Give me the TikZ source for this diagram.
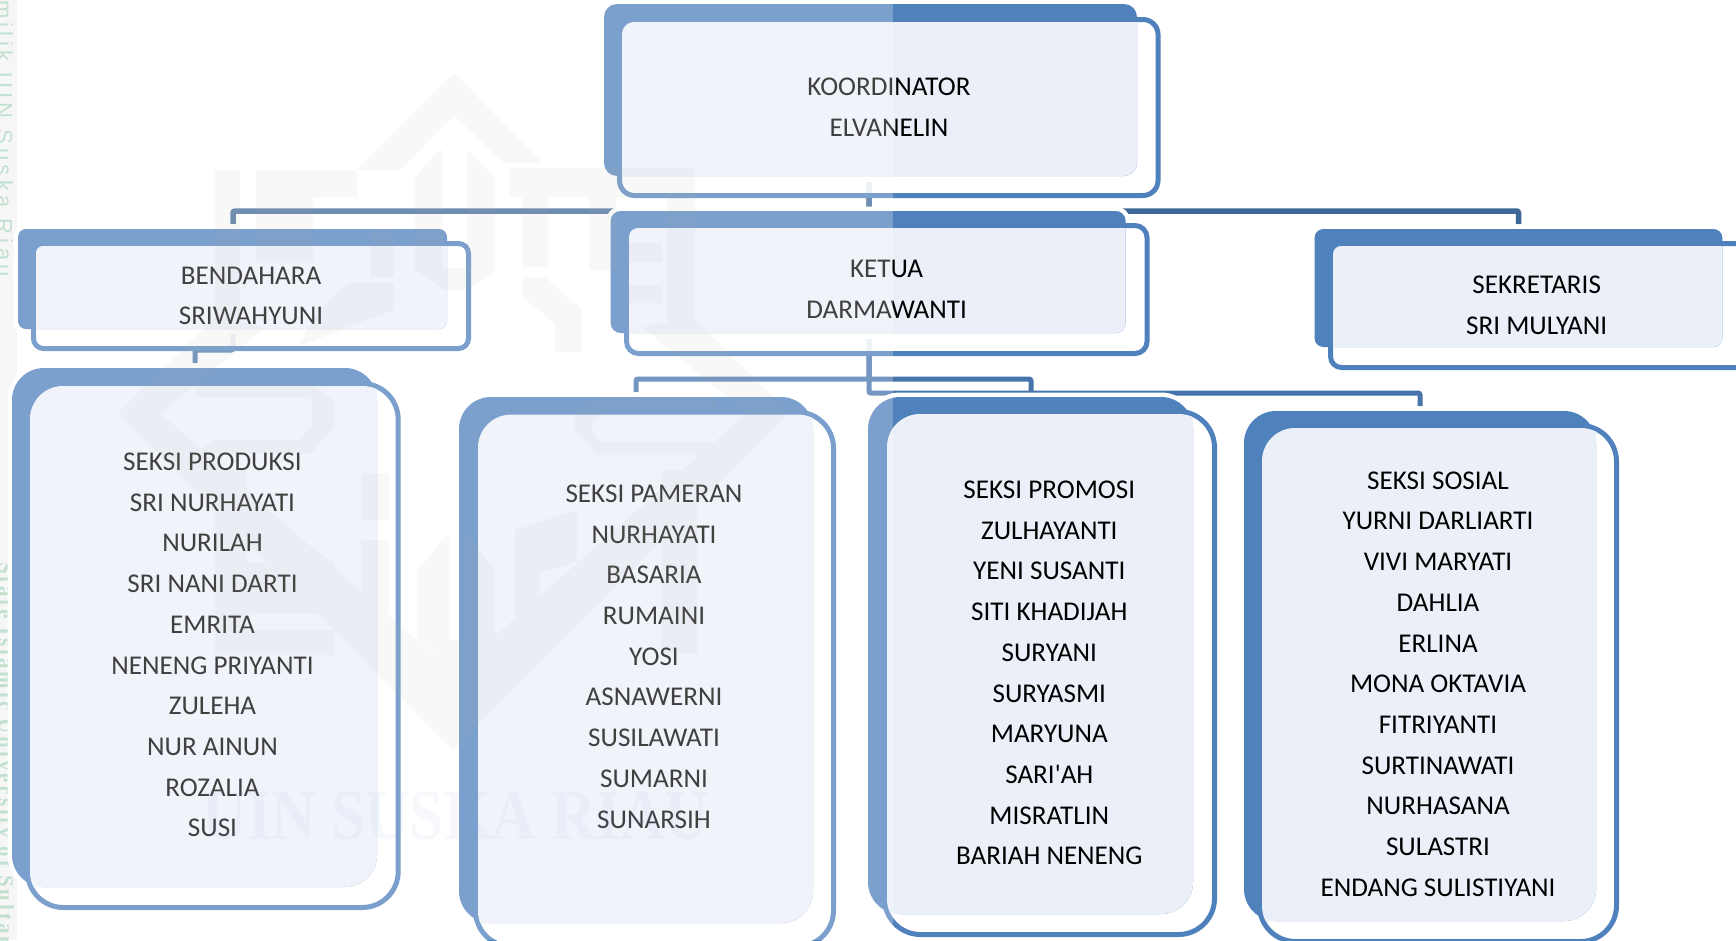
\documentclass[tikz,border=0pt]{standalone}
\usepackage{fontspec}
\setmainfont{Carlito}
\newfontfamily\lblfont{Carlito}
\newfontfamily\wmsans[LetterSpace=20]{Liberation Sans}
\newfontfamily\wmserif[LetterSpace=14]{Liberation Serif}
\newfontfamily\wmbig{Liberation Serif}
\usetikzlibrary{calc}
\pgfdeclarelayer{bg}
\pgfdeclarelayer{conn}
\pgfdeclarelayer{top}
\pgfsetlayers{bg,conn,main,top}
\definecolor{hblue}{HTML}{4F81BD}
\definecolor{innerc}{HTML}{EBF0F8}
\definecolor{connAc}{HTML}{3F6797}
\definecolor{connBc}{HTML}{4674AB}
\definecolor{sidegreen}{HTML}{AED6BF}
\definecolor{sideband}{HTML}{F3F4F3}
\definecolor{wmlav}{HTML}{5868D8}
\tikzset{
  x=1pt,y=-1pt,
  nobox/.style={inner sep=0pt,outer sep=0pt},
  halobox/.style={nobox,draw=white,line width=9pt},
  framebox/.style={nobox,draw=hblue,line width=5pt,fill=white,fill opacity=.88},
  backbox/.style={nobox,fill=hblue},
  lbl/.style={nobox,align=center,text=black,font=\lblfont\fontsize{27.1}{40.7}\selectfont},
  connA/.style={draw=connAc,line width=5.5pt,rounded corners=2pt},
  connB/.style={draw=connBc,line width=5pt,rounded corners=2pt}
}
\newcommand{\orgradii}[2]{\def\rbk{#1}\def\rfr{#2}}
% name; back x1 y1 x2 y2; frame outer x1 y1 x2 y2
\newcommand{\orgbox}[9]{%
  \pgfmathsetmacro{\bw}{#4-#2}\pgfmathsetmacro{\bh}{#5-#3}%
  \pgfmathsetmacro{\bx}{(#4+#2)/2}\pgfmathsetmacro{\by}{(#5+#3)/2}%
  \pgfmathsetmacro{\fw}{#8-#6-5}\pgfmathsetmacro{\fh}{#9-#7-5}%
  \pgfmathsetmacro{\fx}{(#8+#6)/2}\pgfmathsetmacro{\fy}{(#9+#7)/2}%
  \pgfmathsetmacro{\ilx}{#6+5}\pgfmathsetmacro{\ity}{#7+5}%
  \pgfmathsetmacro{\irx}{#8-5}\pgfmathsetmacro{\iby}{#9-5}%
  \node[halobox,rounded corners=\rbk pt,minimum width=\bw pt,minimum height=\bh pt] (#1H) at (\bx,\by) {};
  \node[framebox,rounded corners=\rfr pt,minimum width=\fw pt,minimum height=\fh pt] (#1F) at (\fx,\fy) {};
  \node[backbox,rounded corners=\rbk pt,minimum width=\bw pt,minimum height=\bh pt] (#1B) at (\bx,\by) {};
  \begin{scope}
    \pgfmathsetmacro{\irr}{max(\rfr-3,1)}
    \clip[rounded corners=\irr pt] (\ilx,\ity) -- (\irx,\ity) -- (\irx,\iby) -- (\ilx,\iby) -- cycle;
    \fill[innerc] (\ilx,\ity) -- (#4,\ity) [rounded corners=\rbk pt] -- (#4,#5) [sharp corners] -- (\ilx,#5) -- cycle;
  \end{scope}
}
\newcommand{\wmr}[4]{(#1,#2) -- (#3,#2) -- (#3,#4) -- (#1,#4) -- cycle}
\begin{document}
\begin{tikzpicture}
\useasboundingbox (0,0) rectangle (1736,940);
\begin{pgfonlayer}{bg}
  \fill[white] (0,0) rectangle (1736,940);
  \fill[sideband] (0,0) rectangle (17,940);
  \node[nobox,rotate=-90,anchor=base west,text=sidegreen,font=\wmsans\fontsize{22}{22}\selectfont] (sideA) at (-3,0) {milik UIN Suska Riau};
  \node[nobox,rotate=-90,anchor=base west,text=sidegreen,font=\wmserif\bfseries\fontsize{21}{21}\selectfont] (sideB) at (-1,562) {State Islamic University of Sultan};
\end{pgfonlayer}

\orgradii{13}{15}
\orgbox{koord}{604}{4}{1137}{176}{617}{17}{1160.5}{198}
\orgradii{8}{10}
\orgbox{bend}{18}{229}{447}{329}{31}{241}{471}{351}
\orgradii{10}{12}
\orgbox{ketua}{610.6}{211}{1125.7}{333}{624}{223}{1149.5}{356}
\orgradii{9}{11}
\orgbox{sek}{1314.5}{229}{1722.4}{347}{1328}{241}{1765}{370}
\orgradii{32}{36}
\orgbox{prod}{12}{368}{377}{887}{25}{381}{400.7}{910}
\orgbox{pam}{459}{397}{813}{923}{473}{409.6}{836}{949}
\orgbox{prom}{868}{397}{1193}{914}{882}{409}{1217}{937}
\orgbox{sos}{1244}{411}{1596}{921}{1257}{423}{1619}{944}

\node[lbl] (koordT) at (889,107) {KOORDINATOR\\ELVANELIN};
\node[lbl] (bendT) at (251,296) {BENDAHARA\\SRIWAHYUNI};
\node[lbl] (ketuaT) at (886.6,289.5) {KETUA\\DARMAWANTI};
\node[lbl] (sekT) at (1536.7,305) {SEKRETARIS\\SRI MULYANI};
\node[lbl] (prodT) at (212.5,645) {SEKSI PRODUKSI\\SRI NURHAYATI\\NURILAH\\SRI NANI DARTI\\EMRITA\\NENENG PRIYANTI\\ZULEHA\\NUR AINUN\\ROZALIA\\SUSI};
\node[lbl] (pamT) at (654,656.5) {SEKSI PAMERAN\\NURHAYATI\\BASARIA\\RUMAINI\\YOSI\\ASNAWERNI\\SUSILAWATI\\SUMARNI\\SUNARSIH};
\node[lbl] (promT) at (1049.3,673) {SEKSI PROMOSI\\ZULHAYANTI\\YENI SUSANTI\\SITI KHADIJAH\\SURYANI\\SURYASMI\\MARYUNA\\SARI'AH\\MISRATLIN\\BARIAH NENENG};
\node[lbl] (sosT) at (1438,684) {SEKSI SOSIAL\\YURNI DARLIARTI\\VIVI MARYATI\\DAHLIA\\ERLINA\\MONA OKTAVIA\\FITRIYANTI\\SURTINAWATI\\NURHASANA\\SULASTRI\\ENDANG SULISTIYANI};

\coordinate (koordOut) at (869,182);
\coordinate (busTop) at (869,211);
\coordinate (bendIn) at (233,224);
\coordinate (sekIn) at (1518.5,224);
\coordinate (bendOut) at (233,334);
\coordinate (bendBus) at (233,350);
\coordinate (prodIn) at (195,363);
\coordinate (ketuaOut) at (869,339);
\coordinate (busLow) at (869,379);
\coordinate (busSos) at (869,393);
\coordinate (pamIn) at (636,392);
\coordinate (promIn) at (1031,392);
\coordinate (sosIn) at (1420,406);
\begin{pgfonlayer}{conn}
  \draw[connA] (koordOut) -- (busTop) -| (bendIn);
  \draw[connA] (koordOut) -- (busTop) -| (sekIn);
  \draw[connB] (bendOut) -- (bendBus) -| (prodIn);
  \draw[connB] (ketuaOut) -- (busLow) -| (pamIn);
  \draw[connB] (ketuaOut) -- (busLow) -| (promIn);
  \draw[connB] (ketuaOut) -- (busSos) -| (sosIn);
\end{pgfonlayer}

\begin{pgfonlayer}{top}
  \fill[black!55!yellow!30!gray,fill opacity=.07]
    (357,170) -- (454,73) -- (543,163) -- (504,163) -- (454,115) -- (400,170) -- cycle
    \wmr{215}{170}{240}{330}
    \wmr{256}{170}{357}{197}
    \wmr{256}{197}{313}{263}
    \wmr{371}{230}{394}{277}
    (415,177) -- (440,150) -- (442,150) -- (442,268) -- (467,268) -- (467,150) -- (495,177) -- (495,270) -- (467,290) -- (444,290) -- (415,270) -- cycle
    (348,283) -- (394,283) -- (394,310) -- (348,327) -- (297,347) -- (320,310) -- cycle
    \wmr{522}{197}{548}{267}
    (522,277) -- (545,277) -- (582,310) -- (582,352) -- (555,352) -- (555,323) -- (522,297) -- cycle
    \wmr{509}{168}{695}{197}
    \wmr{589}{197}{616}{270}
    \wmr{667}{197}{695}{327}
    \wmr{628}{243}{662}{262}
    \wmr{628}{285}{662}{303}
    (118,413) -- (160,413) -- (453,673) -- (747,413) -- (789,413) -- (453,750) -- cycle
    (216,317) -- (266,327) -- (160,413) -- (118,413) -- cycle
    (692,317) -- (789,413) -- (747,413) -- (642,327) -- cycle
    (196,383) -- (311,383) -- (334,400) -- (334,427) -- (311,453) -- (196,453) -- (215,440) -- (300,440) -- (312,425) -- (312,400) -- (300,397) -- (196,397) -- cycle
    (598,397) -- (715,397) -- (715,410) -- (606,410) -- (590,425) -- (600,442) -- (715,442) -- (715,455) -- (598,455) -- (575,430) -- (575,415) -- cycle
    \wmr{215}{470}{247}{647}
    \wmr{215}{630}{334}{655}
    \wmr{247}{563}{334}{613}
    (192,477) -- (215,477) -- (334,563) -- (334,580) -- cycle
    \wmr{361}{473}{389}{520}
    \wmr{361}{540}{389}{613}
    (515,530) -- (577,510) -- (577,562) -- (540,572) -- (540,630) -- (515,630) -- cycle
    \wmr{662}{470}{697}{653}
    (417,570) -- (449,533) -- (449,640) -- (466,640) -- (466,533) -- (495,570) -- (495,640) -- (453,673) -- (417,640) -- cycle;
  \node[nobox,text=wmlav,text opacity=.055,font=\wmbig\bfseries\fontsize{72}{72}\selectfont,xscale=.855] (wmText) at (456,816) {UIN SUSKA RIAU};
  \fill[white,fill opacity=.25] (0,0) rectangle (893,940);
\end{pgfonlayer}
\end{tikzpicture}
\end{document}
